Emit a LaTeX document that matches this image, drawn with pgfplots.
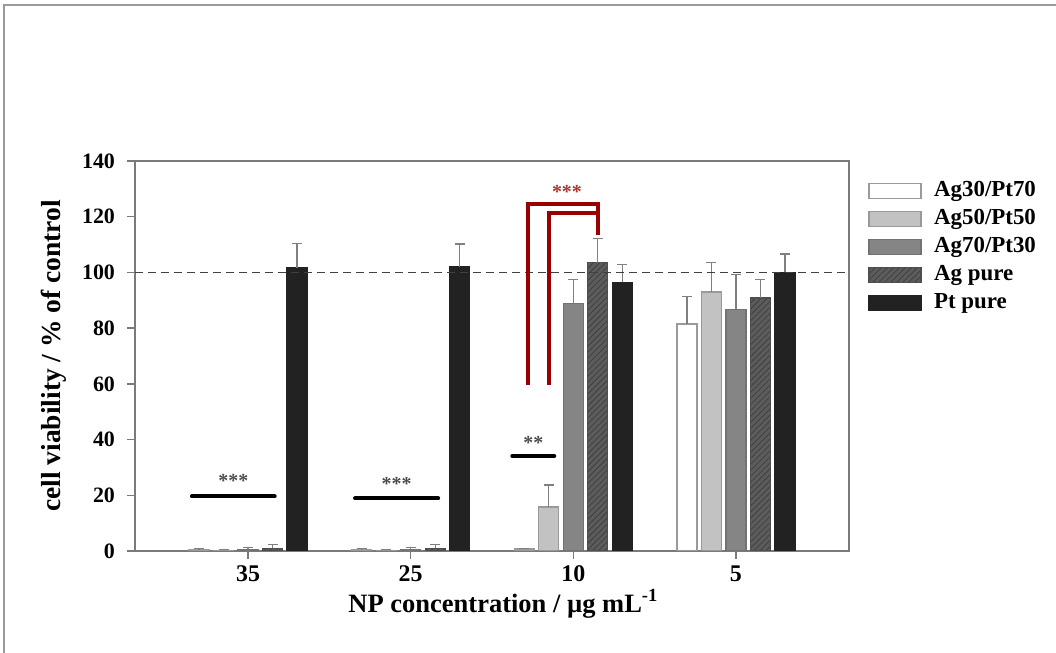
\documentclass[border=0pt]{standalone}
\usepackage{fontspec}
\setmainfont{Liberation Serif}
\usepackage{pgfplots}
\pgfplotsset{compat=1.18}
\usetikzlibrary{patterns}

\definecolor{axisgray}{HTML}{7A7A7A}
\definecolor{framegray}{HTML}{9A9A9A}
\definecolor{errgray}{HTML}{808080}
\definecolor{dred}{HTML}{990000}
\definecolor{cA}{HTML}{FFFFFF}
\definecolor{cB}{HTML}{C2C2C2}
\definecolor{cC}{HTML}{858585}
\definecolor{cD}{HTML}{5C5C5C}
\definecolor{cE}{HTML}{222222}

\pgfplotsset{
  bl/.style={legend image code/.code={\draw[##1] (0bp,-3.75bp) rectangle (26bp,3.75bp);}},
  eb/.style={/pgfplots/error bars/y dir=plus, /pgfplots/error bars/y explicit,
    /pgfplots/error bars/error bar style={errgray, line width=0.6bp},
    /pgfplots/error bars/error mark options={errgray, rotate=90, mark size=2.5bp, line width=0.6bp}},
}

\begin{document}
\begin{tikzpicture}
\path[use as bounding box] (-67.5bp,-51bp) rectangle (460.5bp,275.5bp);
\begin{axis}[
  scale only axis, width=357bp, height=195bp,
  ybar=2.25bp, bar width=10bp,
  xmin=-0.695, xmax=3.695, ymin=0, ymax=140,
  xtick={0,1,2,3}, xticklabels={35,25,10,5},
  ytick={0,20,...,140},
  tick align=outside, tick pos=left,
  major tick length=4bp,
  axis line style={draw=axisgray, line width=0.75bp},
  tick style={axisgray, line width=0.75bp},
  /pgf/number format/assume math mode=true,
  xticklabel style={font=\fontsize{12}{14}\selectfont\bfseries},
  yticklabel style={font=\fontsize{11}{13}\selectfont\bfseries, xshift=-2.5bp},
  xlabel={NP concentration / µg mL\textsuperscript{-1}},
  xlabel style={at={(axis description cs:0.516,0)}, anchor=base, yshift=-30.5bp,
    font=\fontsize{13.3}{15}\selectfont\bfseries},
  ylabel={cell viability / \% of control},
  ylabel style={at={(axis description cs:-0.1141,0.5)}, anchor=center,
    font=\fontsize{13.8}{15}\selectfont\bfseries},
  legend style={at={(rel axis cs:1,1)}, anchor=north west, xshift=9.5bp, yshift=-8bp,
    draw=none, fill=none, inner sep=0pt, row sep=0pt,
    font=\fontsize{11.5}{13}\selectfont\bfseries,
    nodes={inner sep=1.75bp, text height=8bp, text depth=2.5bp},
    /tikz/every odd column/.append style={column sep=4.5bp}},
  legend cell align=left,
]
\addplot[bl, eb, fill=cA, draw=framegray, line width=0.6bp] coordinates {
  (0,0.5) +- (0,0.5)
  (1,0.4) +- (0,0.4)
  (2,0.7) +- (0,0.3)
  (3,81.5) +- (0,9.8)
};
\addplot[bl, eb, fill=cB, draw=gray!80, line width=0.6bp] coordinates {
  (0,0.3) +- (0,0.3)
  (1,0.3) +- (0,0.3)
  (2,15.8) +- (0,7.9)
  (3,93.0) +- (0,10.5)
};
\addplot[bl, eb, fill=cC, draw=gray!90!black, line width=0.6bp] coordinates {
  (0,0.5) +- (0,0.7)
  (1,0.6) +- (0,0.8)
  (2,88.9) +- (0,8.7)
  (3,86.7) +- (0,12.5)
};
\addplot[bl, eb, fill=cD, draw=cD!85!black, line width=0.6bp,
  postaction={pattern=north east lines, pattern color=black!75}] coordinates {
  (0,1.0) +- (0,1.2)
  (1,1.0) +- (0,1.2)
  (2,103.5) +- (0,8.7)
  (3,90.8) +- (0,6.8)
};
\addplot[bl, eb, fill=cE, draw=cE, line width=0.6bp] coordinates {
  (0,101.6) +- (0,8.9)
  (1,102.0) +- (0,8.2)
  (2,96.4) +- (0,6.5)
  (3,100.0) +- (0,6.6)
};
\legend{Ag30/Pt70, Ag50/Pt50, Ag70/Pt30, Ag pure, Pt pure}

% reference line at 100 %
\draw[black!75, line width=0.55bp, dash pattern=on 4.2bp off 2.3bp]
  (axis cs:-0.695,100) -- (axis cs:3.695,100);

% significance marks
\draw[black, line width=2bp, line cap=round] (axis cs:-0.345,19.6) -- (axis cs:0.164,19.6);
\draw[black, line width=2bp, line cap=round] (axis cs:0.658,18.9) -- (axis cs:1.169,18.9);
\draw[black, line width=2bp, line cap=round] (axis cs:1.625,34.1) -- (axis cs:1.883,34.1);
\node[anchor=base, text=black!70, font=\fontsize{10}{12}\selectfont\bfseries] at (axis cs:-0.09,22.8) {***};
\node[anchor=base, text=black!70, font=\fontsize{10}{12}\selectfont\bfseries] at (axis cs:0.913,21.8) {***};
\node[anchor=base, text=black!70, font=\fontsize{10}{12}\selectfont\bfseries] at (axis cs:1.754,36.5) {**};

\draw[dred, line width=2bp] (axis cs:1.721,59.6) -- (axis cs:1.721,124.4) -- (axis cs:2.150,124.4) -- (axis cs:2.150,113.4);
\draw[dred, line width=2bp] (axis cs:1.852,59.6) -- (axis cs:1.852,121.2) -- (axis cs:2.150,121.2);
\node[anchor=base, text=dred!80, font=\fontsize{10}{12}\selectfont\bfseries] at (axis cs:1.961,126.6) {***};
\end{axis}
\draw[framegray, line width=0.75bp] (-65.5bp,-60bp) -- (-65.5bp,273bp) -- (470bp,273bp);
\end{tikzpicture}
\end{document}
